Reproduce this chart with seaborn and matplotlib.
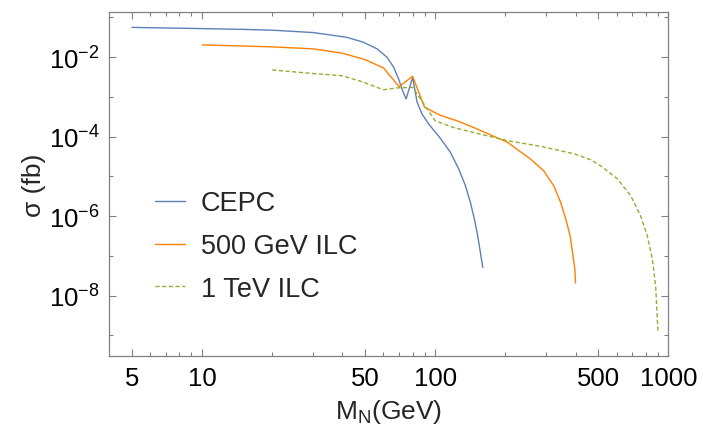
import numpy as np
import pandas as pd
import seaborn as sns
from matplotlib import pyplot as plt
from matplotlib.ticker import FixedLocator, NullFormatter

# values (mass in GeV, log10 of sigma in fb)
cepc_m = [5, 10, 15, 20, 30, 41.8, 49.3, 56.3, 62.1, 66.3, 69.7, 72, 75, 80, 83.6, 87.8, 93.7,
          105.2, 116.1, 126.1, 134.7, 141.5, 147.2, 152.1, 156.2, 160]
cepc_logsig = [-1.25, -1.28, -1.30, -1.32, -1.38, -1.50, -1.625, -1.79, -2.0, -2.25, -2.55, -2.80,
               -3.05, -2.51, -3.13, -3.43, -3.68, -4.04, -4.39, -4.81, -5.23, -5.65, -6.07,
               -6.49, -6.91, -7.29]

ilc500_m = [10, 20, 30, 40, 50, 60, 70, 80, 90, 105, 124, 145, 204, 256, 292, 322, 345, 363,
            379, 388, 397, 400]
ilc500_logsig = [-1.69, -1.74, -1.79, -1.90, -2.06, -2.27, -2.74, -2.48, -3.26, -3.46, -3.60,
                 -3.76, -4.14, -4.56, -4.86, -5.23, -5.65, -6.07, -6.49, -6.91, -7.33, -7.68]

ilc1000_m = [20, 29.2, 39.8, 49.3, 60, 68.8, 80, 90, 100, 120, 145, 204, 282, 394, 464, 512,
             604, 689, 760, 812, 854, 882, 897, 902]
ilc1000_logsig = [-2.32, -2.405, -2.465, -2.63, -2.82, -2.77, -2.76, -3.20, -3.60, -3.77, -3.89,
                  -4.10, -4.24, -4.43, -4.58, -4.73, -5.06, -5.48, -5.99, -6.49, -7.08, -7.75,
                  -8.59, -8.88]

labels = ['CEPC', '500 GeV ILC', '1 TeV ILC']
colors = ['#5E81B5', '#FF8000', '#8FB032']

x_major = [5, 10, 50, 100, 500, 1000]
x_minor = [6, 7, 8, 9, 20, 30, 40, 60, 70, 80, 90, 200, 300, 400, 600, 700, 800, 900]
y_major_exp = [-2, -4, -6, -8]
y_minor_exp = [-1, -3, -5, -7, -9]

sns.set_style('ticks')
plt.rcParams['font.family'] = ['Liberation Sans', 'DejaVu Sans']
plt.rcParams['mathtext.fontset'] = 'custom'
plt.rcParams['mathtext.rm'] = 'Liberation Sans'
plt.rcParams['mathtext.it'] = 'Liberation Sans:italic'
plt.rcParams['mathtext.bf'] = 'Liberation Sans:bold'

fig = plt.figure(figsize=(7.03, 4.35), dpi=100)
ax = fig.add_axes([0.1555, 0.1782, 0.7952, 0.7926])

series = [(cepc_m, cepc_logsig), (ilc500_m, ilc500_logsig), (ilc1000_m, ilc1000_logsig)]
styles = ['-', '-', (0, (3, 1.8))]
for (m, ls), lab, col, sty in zip(series, labels, colors, styles):
    d = pd.DataFrame({'M': m, 'sigma': np.power(10.0, ls)})
    sns.lineplot(data=d, x='M', y='sigma', ax=ax, color=col, label=lab,
                 linestyle=sty, linewidth=1.0, sort=False, estimator=None)

ax.set_xscale('log')
ax.set_yscale('log')
ax.set_xlim(4, 1000)
ax.set_ylim(10 ** -9.53, 10 ** -0.855)

ax.xaxis.set_major_locator(FixedLocator(x_major))
ax.xaxis.set_minor_locator(FixedLocator(x_minor))
ax.set_xticklabels([str(v) for v in x_major])
ax.xaxis.set_minor_formatter(NullFormatter())

ax.yaxis.set_major_locator(FixedLocator([10.0 ** e for e in y_major_exp]))
ax.yaxis.set_minor_locator(FixedLocator([10.0 ** e for e in y_minor_exp]))
ax.set_yticklabels([r'$\mathregular{10^{%d}}$' % e for e in y_major_exp])
ax.yaxis.set_minor_formatter(NullFormatter())

ax.tick_params(which='both', direction='in', top=True, right=True, color='#808080',
               labelsize=18.5, labelcolor='black', width=0.8)
ax.tick_params(which='major', length=5, pad=7)
ax.tick_params(which='minor', length=3)
for s in ax.spines.values():
    s.set_color('#808080')
    s.set_linewidth(0.9)

ax.set_xlabel(r'M$_\mathregular{N}$(GeV)', fontsize=19, labelpad=5)
ax.set_ylabel('σ (fb)', fontsize=19, labelpad=2)

ax.legend(loc='center left', bbox_to_anchor=(0.0818, 0.3205), frameon=False,
          fontsize=19.5, handlelength=1.1, handletextpad=0.6, labelspacing=0.62,
          borderpad=0, borderaxespad=0)

fig.savefig('out.png', dpi=100)
